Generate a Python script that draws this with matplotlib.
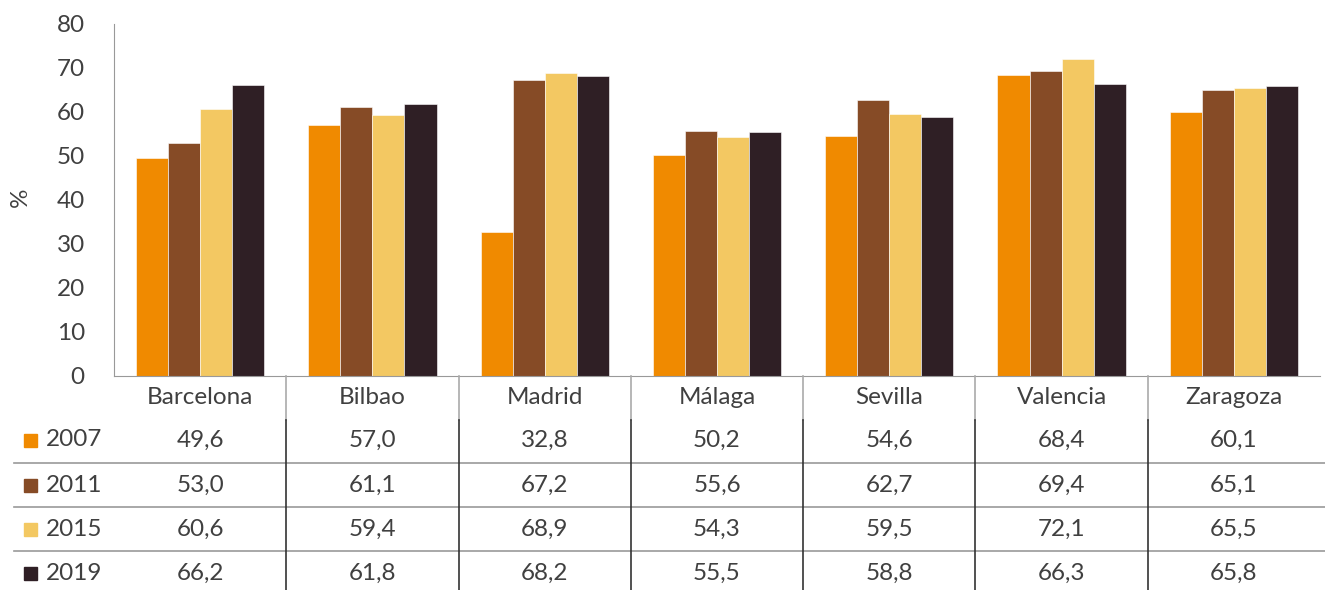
import numpy as np
import matplotlib.pyplot as plt
import matplotlib.transforms as mtransforms
from matplotlib.lines import Line2D
from matplotlib.patches import Rectangle

cities = ["Barcelona", "Bilbao", "Madrid", "Málaga", "Sevilla", "Valencia", "Zaragoza"]
years = ["2007", "2011", "2015", "2019"]
v2007 = [49.6, 57.0, 32.8, 50.2, 54.6, 68.4, 60.1]
v2011 = [53.0, 61.1, 67.2, 55.6, 62.7, 69.4, 65.1]
v2015 = [60.6, 59.4, 68.9, 54.3, 59.5, 72.1, 65.5]
v2019 = [66.2, 61.8, 68.2, 55.5, 58.8, 66.3, 65.8]
series = [v2007, v2011, v2015, v2019]
colors = ["#F08A00", "#864B26", "#F3C862", "#2F1F25"]

plt.rcParams['font.family'] = ['Lato', 'DejaVu Sans']
txt = "#404040"
fs = 17.5
W, H = 1325, 590

fig = plt.figure(figsize=(W / 100, H / 100), dpi=100)
ax = fig.add_axes([114 / W, (H - 376) / H, (1320 - 114) / W, (376 - 24) / H])

x = np.arange(len(cities))
w = 0.186
for k, vals in enumerate(series):
    ax.bar(x + (k - 1.5) * w, vals, w, color=colors[k], edgecolor="white", linewidth=0.4)

ax.set_xlim(-0.5, len(cities) - 0.5)
ax.set_ylim(0, 80)
ax.set_yticks(range(0, 81, 10))
ax.tick_params(axis="y", length=0, pad=21, labelsize=fs, labelcolor=txt)
ax.set_xticks([])
for s in ["top", "right"]:
    ax.spines[s].set_visible(False)
ax.spines["left"].set_color("#999999")
ax.spines["bottom"].set_color("#999999")
fig.text(20 / W, (H - 197) / H, "%", rotation=90, fontsize=fs, color=txt,
         ha="center", va="center")

# data table below the axis
tr = mtransforms.blended_transform_factory(ax.transData, fig.transFigure)
fy = lambda py: (H - py) / H

for i, c in enumerate(cities):
    fig.text(i, fy(398), c, transform=tr, ha="center", va="center", fontsize=fs, color=txt)
row_y = [440, 485, 529, 573]
for k, vals in enumerate(series):
    yy = fy(row_y[k])
    for i, v in enumerate(vals):
        fig.text(i, yy, f"{v:.1f}".replace(".", ","), transform=tr, ha="center",
                 va="center", fontsize=fs, color=txt)
    fig.patches.append(Rectangle((24 / W, yy - 6.5 / H), 13 / W, 13 / H, color=colors[k],
                                 transform=fig.transFigure, figure=fig))
    fig.text(46 / W, yy, years[k], ha="left", va="center", fontsize=fs, color=txt)

for py in [463, 507, 551]:
    fig.add_artist(Line2D([14 / W, 1], [fy(py), fy(py)], color="#999999", lw=1.2,
                          transform=fig.transFigure))
for b in np.arange(0.5, len(cities) - 0.5, 1):
    fig.add_artist(Line2D([b, b], [fy(376), fy(420)], color="#aaaaaa", lw=1.2, transform=tr))
    fig.add_artist(Line2D([b, b], [fy(420), 0], color="#333333", lw=1.2, transform=tr))

fig.savefig("out.png", dpi=100)
